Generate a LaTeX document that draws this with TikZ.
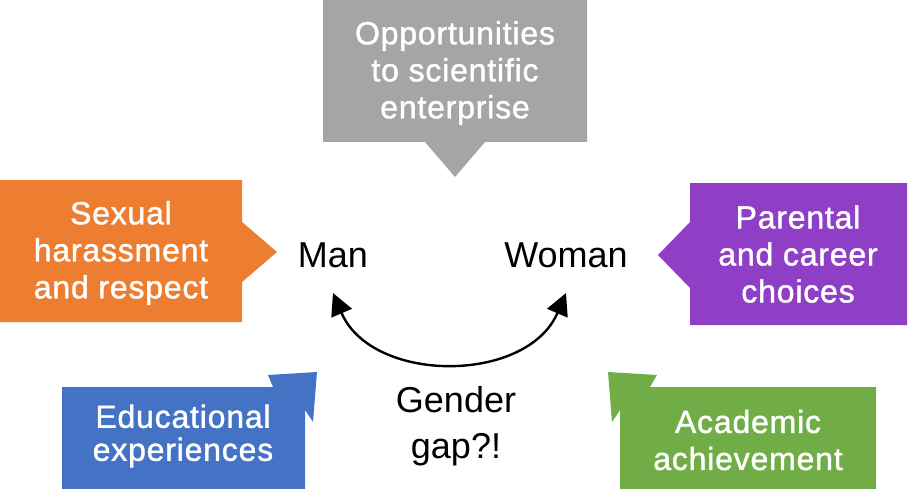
\documentclass[tikz,border=0pt]{standalone}
\usepackage{fontspec}
\setmainfont{Liberation Sans}
\newfontfamily\boxfont[FakeBold=1.3,LetterSpace=2.5]{Liberation Sans}
\usetikzlibrary{arrows.meta}
\definecolor{corange}{HTML}{ED7D31}
\definecolor{cgray}{HTML}{A5A5A5}
\definecolor{cpurple}{HTML}{8E3FC6}
\definecolor{cblue}{HTML}{4472C4}
\definecolor{cgreen}{HTML}{70AD47}
\tikzset{
  boxtext/.style={text=white, align=center, inner sep=0pt,
    font=\boxfont\fontsize{32}{37}\selectfont},
  mainlabel/.style={text=black, align=center, inner sep=0pt,
    font=\fontsize{36}{46}\selectfont},
  gaparrow/.style={black, line width=2.4pt,
    {Triangle[length=22pt,width=22pt]}-{Triangle[length=22pt,width=22pt]}}
}
\begin{document}
\begin{tikzpicture}[x=1pt,y=-1pt]
\useasboundingbox (0,0) rectangle (909,489);
% callout shapes
\fill[corange] (0,180) -- (242,180) -- (242,222) -- (277,252) -- (242,282) -- (242,322) -- (0,322) -- cycle;
\fill[cgray] (323,0) -- (587,0) -- (587,142) -- (485,142) -- (455,177) -- (425,142) -- (323,142) -- cycle;
\fill[cpurple] (907,183) -- (690,183) -- (690,222) -- (658,255) -- (690,288) -- (690,325) -- (907,325) -- cycle;
\fill[cblue] (62,387) -- (273,387) -- (268,375) -- (317,372) -- (313,422) -- (305,410) -- (305,489) -- (62,489) -- cycle;
\fill[cgreen] (876,387) -- (650,387) -- (657,375) -- (608,372) -- (612,422) -- (620,410) -- (620,489) -- (876,489) -- cycle;
% texts
\node[boxtext] (harass) at (121,253) {Sexual\\harassment\\and respect};
\node[boxtext] (opport) at (455,73) {Opportunities\\to scientific\\enterprise};
\node[boxtext] (parent) at (798,254) {Parental\\and career\\choices};
\node[boxtext, font=\boxfont\fontsize{32}{33}\selectfont] (educ) at (183,436) {Educational\\experiences};
\node[boxtext] (acad) at (748,440) {Academic\\achievement};
\node[mainlabel] (man) at (333,255) {Man};
\node[mainlabel] (woman) at (566,255) {Woman};
\node[mainlabel] (gap) at (456,426) {Gender\\gap?!};
% arrow
\coordinate (mantip) at (333,293);
\coordinate (womantip) at (566,293);
\draw[gaparrow] (mantip) .. controls (372,384) and (527,384) .. (womantip);
\end{tikzpicture}
\end{document}
